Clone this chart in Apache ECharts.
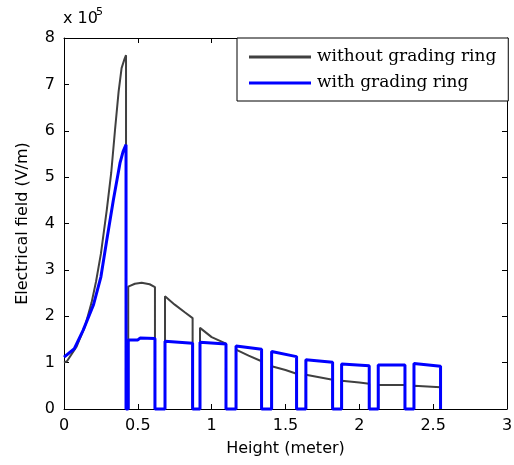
<!DOCTYPE html>
<html>
<head>
<meta charset="utf-8">
<script src="https://cdn.jsdelivr.net/npm/echarts@6/dist/echarts.min.js"></script>
<style>
  html, body { margin: 0; padding: 0; background: #fff; }
  #chart { width: 514px; height: 465px; }
</style>
</head>
<body>
<div id="chart"></div>
<script>
// heights in meter, field in units of 1e5 V/m
var withoutX = [0, 0.02, 0.086, 0.142, 0.187, 0.217, 0.25, 0.29, 0.32, 0.345, 0.37, 0.39, 0.41, 0.42,
  0.42, 0.435, 0.435, 0.48, 0.526, 0.58, 0.616, 0.616, 0.684, 0.684, 0.75, 0.82, 0.871,
  0.871, 0.921, 0.921, 1.0, 1.097, 1.097, 1.165, 1.165, 1.25, 1.338, 1.338, 1.406, 1.406, 1.5, 1.575,
  1.575, 1.638, 1.638, 1.819, 1.819, 1.88, 1.88, 2.0, 2.067, 2.067, 2.128, 2.128, 2.309,
  2.309, 2.37, 2.37, 2.55, 2.55];
var withoutY = [1.0, 1.03, 1.35, 1.78, 2.3, 2.75, 3.35, 4.3, 5.1, 6.0, 6.85, 7.35, 7.55, 7.63,
  0, 0, 2.64, 2.7, 2.72, 2.69, 2.63, 0, 0, 2.43, 2.25, 2.08, 1.96,
  0, 0, 1.75, 1.55, 1.41, 0, 0, 1.28, 1.15, 1.03, 0, 0, 0.92, 0.84, 0.76,
  0, 0, 0.74, 0.63, 0, 0, 0.61, 0.57, 0.545, 0, 0, 0.52, 0.52,
  0, 0, 0.50, 0.47, 0];

var withX = [0, 0.07, 0.13, 0.2, 0.25, 0.29, 0.334, 0.379, 0.40, 0.42,
  0.42, 0.435, 0.435, 0.5, 0.515, 0.616, 0.616, 0.684, 0.684, 0.871, 0.871, 0.921, 0.921, 1.097,
  1.097, 1.165, 1.165, 1.338, 1.338, 1.406, 1.406, 1.575, 1.575, 1.638, 1.638, 1.819,
  1.819, 1.88, 1.88, 2.067, 2.067, 2.128, 2.128, 2.309, 2.309, 2.37, 2.37, 2.55, 2.55];
var withY = [1.12, 1.3, 1.7, 2.25, 2.85, 3.65, 4.5, 5.3, 5.55, 5.7,
  0, 0, 1.49, 1.49, 1.53, 1.52, 0, 0, 1.46, 1.42, 0, 0, 1.44, 1.40,
  0, 0, 1.36, 1.29, 0, 0, 1.24, 1.13, 0, 0, 1.06, 1.01,
  0, 0, 0.97, 0.93, 0, 0, 0.95, 0.95, 0, 0, 0.98, 0.92, 0];

var seriesNames = ['without grading ring', 'with grading ring'];

function pairs(xs, ys) {
  return xs.map(function (x, i) { return [x, ys[i]]; });
}

var chartDom = document.getElementById('chart');
var myChart = echarts.init(chartDom);

var sans = 'DejaVu Sans';
var plainAxis = {
  min: 0,
  axisLine: { show: true, onZero: false, lineStyle: { color: '#000', width: 1 } },
  axisTick: { show: true, inside: true, length: 5, lineStyle: { color: '#000' } },
  splitLine: { show: false }
};

var option = {
  animation: false,
  grid: {
    left: 64, right: 7, top: 38, bottom: 56,
    containLabel: false,
    outerBoundsMode: 'none'
  },
  legend: {
    left: 237,
    top: 38,
    orient: 'vertical',
    data: seriesNames,
    icon: 'rect',
    itemWidth: 62,
    itemHeight: 3,
    itemGap: 6,
    padding: [9, 12, 8, 12],
    borderColor: '#000',
    borderWidth: 1,
    borderRadius: 0,
    backgroundColor: '#fff',
    textStyle: { fontFamily: 'DejaVu Serif', fontSize: 17, color: '#000', lineHeight: 20, padding: [0, 0, 0, 1] }
  },
  graphic: [
    { type: 'text', left: 63, top: 11, style: { text: 'x 10', font: '16px "DejaVu Sans"', fill: '#000' } },
    { type: 'text', left: 96, top: 7, style: { text: '5', font: '11px "DejaVu Sans"', fill: '#000' } }
  ],
  xAxis: [
    Object.assign({}, plainAxis, {
      type: 'value', max: 3, interval: 0.5, position: 'bottom',
      name: 'Height (meter)', nameLocation: 'middle', nameGap: 32,
      nameTextStyle: { fontFamily: sans, fontSize: 16, color: '#000' },
      axisLabel: { fontFamily: sans, fontSize: 16, color: '#000', margin: 9 }
    }),
    Object.assign({}, plainAxis, {
      type: 'value', max: 3, interval: 0.5, position: 'top',
      axisLabel: { show: false }
    })
  ],
  yAxis: [
    Object.assign({}, plainAxis, {
      type: 'value', max: 8, interval: 1, position: 'left',
      name: 'Electrical field (V/m)', nameLocation: 'middle', nameGap: 33,
      nameTextStyle: { fontFamily: sans, fontSize: 16, color: '#000' },
      axisLabel: { fontFamily: sans, fontSize: 16, color: '#000', margin: 9 }
    }),
    Object.assign({}, plainAxis, {
      type: 'value', max: 8, interval: 1, position: 'right',
      axisLabel: { show: false }
    })
  ],
  series: [
    {
      name: seriesNames[0],
      type: 'line',
      data: pairs(withoutX, withoutY),
      showSymbol: false,
      symbol: 'none',
      clip: false,
      color: '#404040',
      lineStyle: { color: '#404040', width: 2 },
      z: 2
    },
    {
      name: seriesNames[1],
      type: 'line',
      data: pairs(withX, withY),
      showSymbol: false,
      symbol: 'none',
      clip: false,
      color: '#0000ff',
      lineStyle: { color: '#0000ff', width: 3 },
      z: 3
    }
  ]
};

myChart.setOption(option);

window.onresize = () => {
  myChart.resize();
}
</script>
</body>
</html>
